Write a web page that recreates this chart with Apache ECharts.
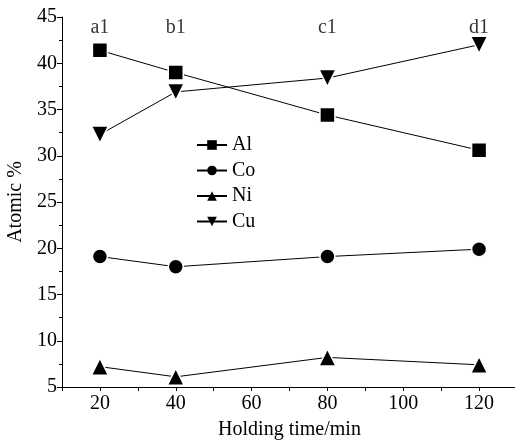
<!DOCTYPE html>
<html><head><meta charset="utf-8">
<script src="https://cdn.jsdelivr.net/npm/echarts@6/dist/echarts.min.js"></script>
<style>html,body{margin:0;padding:0;background:#fff}#c{width:515px;height:441px}</style>
</head><body><div id="c"></div>
<script>
const times = [20, 40, 80, 120];
const al = [41.4, 39.0, 34.4, 30.6];
const co = [19.1, 18.0, 19.1, 19.9];
const ni = [7.2, 6.1, 8.2, 7.4];
const cu = [32.3, 36.9, 38.4, 42.0];
const sampleLabels = ['a1', 'b1', 'c1', 'd1'];
const sampleLabelY = 43.8;

const font = 'Liberation Serif';
const fs = 20;
const chart = echarts.init(document.getElementById('c'));
function ser(name, vals, symbol, size, rot) {
  return {
    name, type: 'line', data: times.map((t, i) => [t, vals[i]]),
    symbol, symbolSize: size, symbolRotate: rot || 0,
    lineStyle: {color: '#000', width: 1},
    itemStyle: {color: '#000', borderColor: '#fff', borderWidth: 1.5},
    emphasis: {disabled: true}, z: 3
  };
}
chart.setOption({
  animation: false,
  backgroundColor: '#fff',
  grid: {left: 62, top: 17, right: -2, bottom: 54, outerBoundsMode: 'none', containLabel: false},
  legend: {
    data: ['Al', 'Co', 'Ni', 'Cu'], orient: 'vertical', left: 191, top: 130,
    itemWidth: 30, itemHeight: 12, itemGap: 5.5,
    textStyle: {fontFamily: font, fontSize: fs, color: '#000'},
    itemStyle: {borderWidth: 0}
  },
  xAxis: {
    type: 'value', min: 10, max: 130, interval: 10,
    name: 'Holding time/min', nameLocation: 'middle', nameGap: 33,
    nameTextStyle: {fontFamily: font, fontSize: fs, color: '#000'},
    axisLine: {show: true, lineStyle: {color: '#000', width: 1}},
    axisTick: {show: true, length: 4, lineStyle: {color: '#000'}},
    axisLabel: {fontFamily: font, fontSize: fs, color: '#000', margin: 7,
      formatter: v => (v % 20 === 0 && v >= 20 && v <= 120) ? String(v) : ''},
    splitLine: {show: false}
  },
  yAxis: {
    type: 'value', min: 5, max: 45, interval: 5,
    name: 'Atomic %', nameLocation: 'middle', nameGap: 31,
    nameTextStyle: {fontFamily: font, fontSize: fs, color: '#000'},
    axisLine: {show: true, lineStyle: {color: '#000', width: 1}},
    axisTick: {show: true, length: 5, lineStyle: {color: '#000'}},
    minorTick: {show: true, splitNumber: 2, length: 3, lineStyle: {color: '#000'}},
    axisLabel: {fontFamily: font, fontSize: fs, color: '#000', margin: 5},
    splitLine: {show: false}
  },
  series: [
    ser('Al', al, 'rect', 15),
    ser('Co', co, 'circle', 15),
    ser('Ni', ni, 'triangle', 17),
    ser('Cu', cu, 'triangle', 17, 180),
    {
      name: 'labels', type: 'scatter', symbolSize: 0,
      data: times.map((t, i) => ({value: [t, sampleLabelY], name: sampleLabels[i]})),
      label: {show: true, position: 'inside', formatter: p => p.name,
        fontFamily: font, fontSize: fs, color: '#000'},
      silent: true
    }
  ]
});
</script></body></html>
